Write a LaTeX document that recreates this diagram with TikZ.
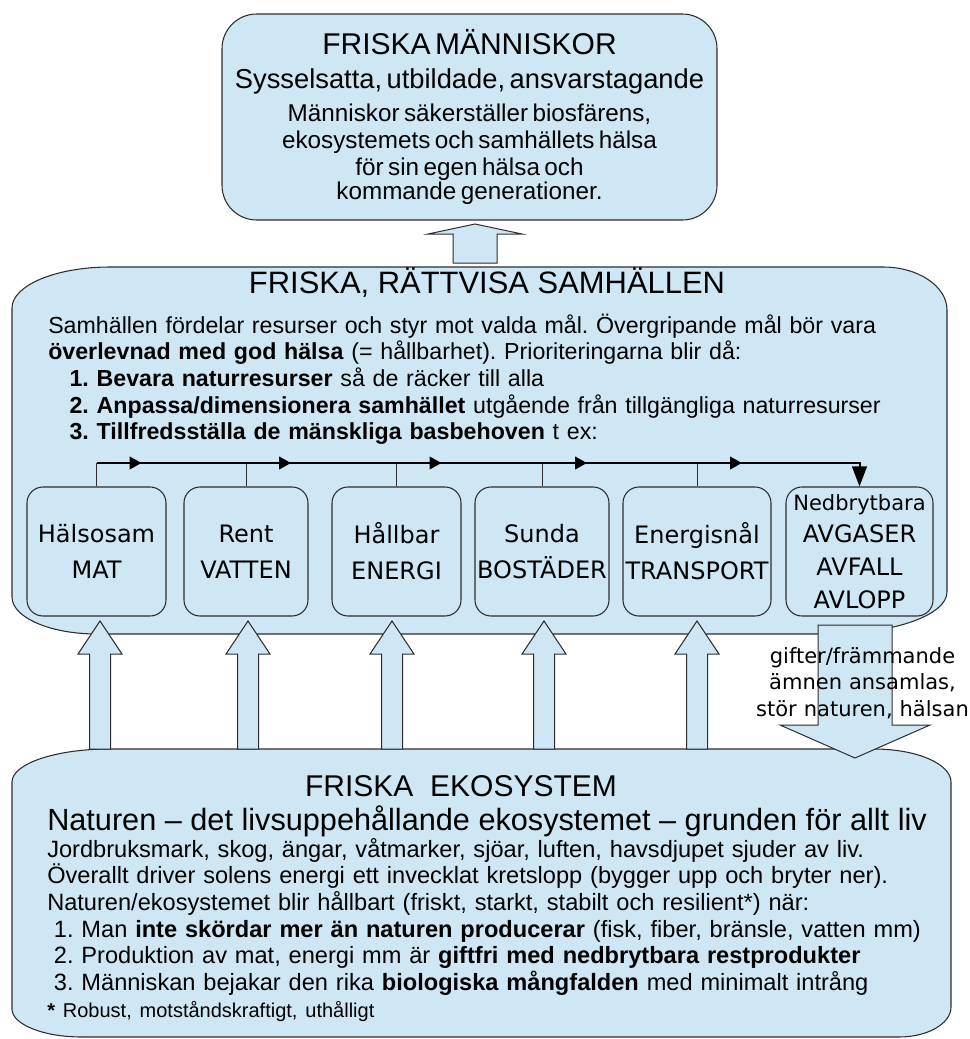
\documentclass[tikz,border=0pt]{standalone}
\usepackage{fontspec}
\setmainfont{Liberation Sans}
\newfontfamily\dejavu{DejaVu Sans}
\usetikzlibrary{arrows.meta}
\definecolor{boxblue}{RGB}{207,231,245}
\definecolor{edge}{RGB}{45,45,45}
\frenchspacing

\begin{document}
\begin{tikzpicture}[x=0.75pt, y=-0.75pt,
    panel/.style={draw=edge, fill=boxblue, line width=0.8pt},
    topbox/.style={panel, rounded corners=26pt, minimum width=371.25pt, minimum height=154.5pt, inner sep=0pt, text width=365pt, align=center},
    need/.style={panel, rounded corners=12pt, minimum height=96.75pt, inner sep=0pt, align=center, font=\dejavu\fontsize{18}{27}\selectfont},
    blockarrow/.style={panel, line width=0.75pt},
    flowline/.style={line width=1.5pt, black},
    tick/.style={line width=0.7pt, edge},
    heading/.style={font=\fontsize{22.5}{27}\selectfont, inner sep=0pt},
    bodytext/.style={font=\fontsize{17.4}{20}\selectfont, inner sep=0pt, align=left, text width=700pt},
    giftnote/.style={font=\dejavu\fontsize{15.75}{20}\selectfont, inner sep=0pt, align=center, text width=170pt}
  ]
    \useasboundingbox (0,0) rectangle (970,1039);

    % Friska manniskor
    \node[topbox] (maenniskor) at (469.5,117) {%
      {\fontsize{22.5}{27}\selectfont FRISKA MÄNNISKOR\par}
      {\fontsize{20.5}{25.5}\selectfont Sysselsatta, utbildade, ansvarstagande\par}
      \fontsize{18.2}{20}\selectfont\vspace{4.75pt}
      Människor säkerställer biosfärens,\\
      ekosystemets och samhällets hälsa\\
      för sin egen hälsa och\\
      kommande generationer.};

    \draw[blockarrow] (453,263) -- (453,234) -- (428,234) -- (475,224) -- (522,234) -- (497,234) -- (497,263) -- cycle;

    % Friska, rattvisa samhallen
    \draw[panel] (12,308) .. controls (12,285.4) and (55.9,267) .. (110,267) -- (883,267)
      .. controls (918.3,267) and (947,286.3) .. (947,310) -- (947,592)
      .. controls (947,615.2) and (893.2,634) .. (827,634) -- (97,634)
      .. controls (50.1,634) and (12,617.4) .. (12,597) -- cycle;

    \node[heading, anchor=base, font=\fontsize{23.2}{27}\selectfont] (samhtitle) at (487,293) {FRISKA, RÄTTVISA SAMHÄLLEN};
    \node[bodytext, anchor=base west] (samhtext) at (48,333) {%
      Samhällen fördelar resurser och styr mot valda mål. Övergripande mål bör vara\\
      \textbf{överlevnad med god hälsa} (= hållbarhet). Prioriteringarna blir då:\\
      \hspace*{16pt}\textbf{1. Bevara naturresurser} så de räcker till alla\\
      \hspace*{16pt}\textbf{2. Anpassa/dimensionera samhället} utgående från tillgängliga naturresurser\\
      \hspace*{16pt}\textbf{3. Tillfredsställa de mänskliga basbehoven} t ex:};

    % Basbehov
    \foreach \name/\cx/\w/\txt in {mat/96.5/104.25/{Hälsosam\\MAT},
        vatten/246/93/{Rent\\VATTEN}, energi/396.5/96.75/{Hållbar\\ENERGI},
        bostad/542/100.5/{Sunda\\BOSTÄDER}, transport/697/111/{Energisnål\\TRANSPORT}}
      \node[need, minimum width=\w pt] (\name) at (\cx,551.5) {\txt};

    \node[need, minimum width=110.25pt, font=\dejavu\fontsize{18}{24.5}\selectfont] (avfall) at (859.5,551.5)
      {{\fontsize{15.75}{24.5}\selectfont Nedbrytbara}\\AVGASER\\AVFALL\\AVLOPP};

    % Flow
    \coordinate (flow) at (0,463);
    \foreach \name in {mat,vatten,energi,bostad,transport}
      \draw[tick] (\name.north) -- (\name.north |- flow) coordinate (j\name);

    \draw[flowline, -{Triangle[length=15pt,width=11pt]}] (jmat) -- (avfall.north |- flow) -- (avfall.north);
    \foreach \name in {mat,vatten,energi,bostad,transport}
      \draw[flowline, -{Triangle[length=9pt,width=9.5pt]}] (j\name) -- ++(45,0);

    % Friska ekosystem
    \draw[panel] (12,782) .. controls (12,763.8) and (55.5,749) .. (109,749) -- (874,749)
      .. controls (916.5,749) and (951,763.8) .. (951,782) -- (951,1007)
      .. controls (951,1023.6) and (927.7,1037) .. (899,1037) -- (82,1037)
      .. controls (43.4,1037) and (12,1024.5) .. (12,1009) -- cycle;

    \node[heading, anchor=base] (ekotitle) at (461,796) {FRISKA\ \ EKOSYSTEM};
    \node[heading, anchor=base west, font=\fontsize{23}{27}\selectfont] (ekosub) at (47,830) {Naturen – det livsuppehållande ekosystemet – grunden för allt liv};
    \node[bodytext, anchor=base west, font=\fontsize{17.7}{20}\selectfont] (ekotext) at (47,857) {%
      Jordbruksmark, skog, ängar, våtmarker, sjöar, luften, havsdjupet sjuder av liv.\\
      Överallt driver solens energi ett invecklat kretslopp (bygger upp och bryter ner).\\
      Naturen/ekosystemet blir hållbart (friskt, starkt, stabilt och resilient*) när:\\
      \hspace*{5pt}1. Man \textbf{inte skördar mer än naturen producerar} (fisk, fiber, bränsle, vatten mm)\\
      \hspace*{5pt}2. Produktion av mat, energi mm är \textbf{giftfri med nedbrytbara restprodukter}\\
      \hspace*{5pt}3. Människan bejakar den rika \textbf{biologiska mångfalden} med minimalt intrång\\
      {\fontsize{15}{20}\selectfont\textbf{*} Robust, motståndskraftigt, uthålligt}};

    % Arrows between ekosystem and samhallen
    \foreach \x in {100,248,392,544,697}
      \draw[blockarrow] (\x-10.5,749) -- (\x-10.5,654) -- (\x-22,654) -- (\x,621) -- (\x+22,654) -- (\x+10.5,654) -- (\x+10.5,749) -- cycle;

    \draw[blockarrow] (818,625) -- (818,725) -- (780,725) -- (855,758) -- (930,725) -- (892,725) -- (892,625) -- cycle;
    \node[giftnote, anchor=base] (gift) at (862.5,663) {gifter/främmande\\ämnen ansamlas,\\stör naturen, hälsan};

  \end{tikzpicture}
\end{document}
